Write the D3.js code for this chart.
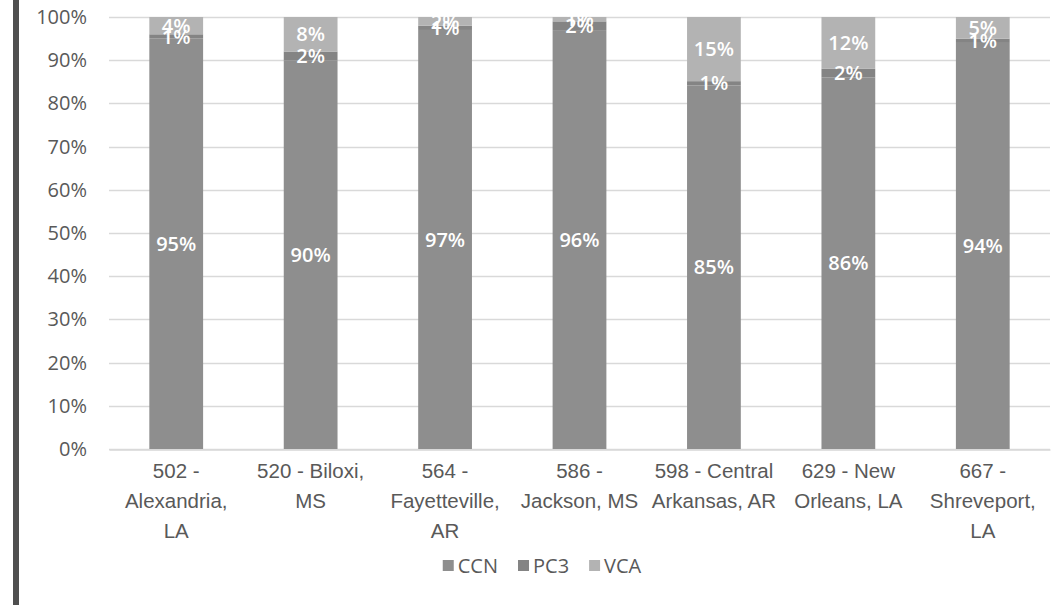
<!DOCTYPE html>
<html>
<head>
<meta charset="utf-8">
<script src="https://cdn.jsdelivr.net/npm/d3@7"></script>
<style>
  html, body { margin: 0; padding: 0; background: #fff; }
  svg { display: block; font-family: "Open Sans", sans-serif; }
</style>
</head>
<body>
<svg id="chart" width="1058" height="605"></svg>
<script>
// ---- data ----
const categories = ["502", "520", "564", "586", "598", "629", "667"];
const categoryLabels = [
  ["502 -", "Alexandria,", "LA"],
  ["520 - Biloxi,", "MS"],
  ["564 -", "Fayetteville,", "AR"],
  ["586 -", "Jackson, MS"],
  ["598 - Central", "Arkansas, AR"],
  ["629 - New", "Orleans, LA"],
  ["667 -", "Shreveport,", "LA"]
];
const seriesNames = ["CCN", "PC3", "VCA"];
const ccn = [95, 90, 97, 96, 85, 86, 94];
const pc3 = [1, 2, 1, 2, 1, 2, 1];
const vca = [4, 8, 2, 1, 15, 12, 5];
const yTicks = [0, 0.1, 0.2, 0.3, 0.4, 0.5, 0.6, 0.7, 0.8, 0.9, 1.0];
const colors = { CCN: "#8e8e8e", PC3: "#848484", VCA: "#b3b3b3" };

// ---- build table ----
const rows = categories.map((c, i) => ({ cat: c, CCN: ccn[i], PC3: pc3[i], VCA: vca[i] }));
const stack = d3.stack().keys(seriesNames).offset(d3.stackOffsetExpand);
const series = stack(rows);

const svg = d3.select("#chart");

// left dark border
svg.append("rect").attr("x", 13).attr("y", 0).attr("width", 6).attr("height", 605).attr("fill", "#4f4f4f");

const x = d3.scaleBand().domain(categories).range([109, 1050]).paddingInner(0.6).paddingOuter(0.3);
const y = d3.scaleLinear().domain([0, 1]).range([449, 17]);

// gridlines
svg.append("g")
  .selectAll("line").data(yTicks).join("line")
  .attr("x1", 109).attr("x2", 1050)
  .attr("y1", d => Math.round(y(d)) + 0.5).attr("y2", d => Math.round(y(d)) + 0.5)
  .attr("stroke", "#d9d9d9").attr("stroke-width", 1.5);

// y axis labels
const yAxis = d3.axisLeft(y).tickValues(yTicks).tickFormat(d3.format(".0%")).tickSize(0).tickPadding(0);
const yg = svg.append("g").attr("transform", "translate(87,0)").call(yAxis);
yg.select(".domain").remove();
yg.selectAll("text").attr("font-size", 20).attr("fill", "#595959").attr("font-family", "Open Sans");

// bars
const layers = svg.append("g").selectAll("g").data(series).join("g")
  .attr("fill", d => colors[d.key]);
layers.selectAll("rect").data(d => d).join("rect")
  .attr("x", d => x(d.data.cat))
  .attr("width", x.bandwidth())
  .attr("y", d => y(d[1]))
  .attr("height", d => y(d[0]) - y(d[1]));

// data labels
const labelG = svg.append("g");
series.forEach(s => {
  labelG.selectAll(null).data(s).join("text")
    .attr("x", d => x(d.data.cat) + x.bandwidth() / 2)
    .attr("y", d => (y(d[0]) + y(d[1])) / 2)
    .attr("dy", "0.36em")
    .attr("text-anchor", "middle")
    .attr("font-size", 20)
    .attr("font-weight", 600)
    .attr("fill", "#ffffff")
    .text(d => d.data[s.key] + "%");
});

// x axis
const xAxis = d3.axisBottom(x).tickSize(0).tickFormat("");
const xg = svg.append("g").attr("transform", "translate(0,449.5)").call(xAxis);
xg.select(".domain").attr("stroke", "#d9d9d9").attr("stroke-width", 1.5);
xg.selectAll(".tick").each(function(d, i) {
  const t = d3.select(this).append("text")
    .attr("text-anchor", "middle")
    .attr("font-size", 20.5)
    .attr("fill", "#595959");
  categoryLabels[i].forEach((line, k) => {
    t.append("tspan").attr("x", 0).attr("y", 28 + k * 30).text(line);
  });
});

// legend
const legend = svg.append("g");
let lx = 0;
seriesNames.forEach(name => {
  const g = legend.append("g");
  g.append("rect").attr("x", 0).attr("y", -6).attr("width", 11).attr("height", 11).attr("fill", colors[name]);
  const tx = g.append("text").attr("x", 15).attr("y", 0).attr("dy", "0.35em")
    .attr("font-size", 20).attr("fill", "#595959").text(name);
  const w = 15 + tx.node().getComputedTextLength();
  g.attr("transform", `translate(${lx},0)`);
  lx += w + 20;
});
const totalW = lx - 20;
legend.attr("transform", `translate(${542 - totalW / 2},566)`);
</script>
</body>
</html>
